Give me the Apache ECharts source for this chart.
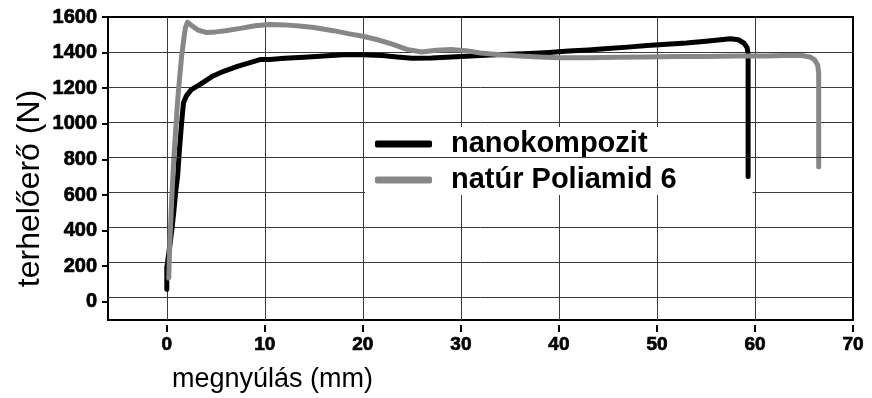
<!DOCTYPE html>
<html>
<head>
<meta charset="utf-8">
<script src="https://cdn.jsdelivr.net/npm/echarts@6/dist/echarts.min.js"></script>
<style>html,body{margin:0;padding:0;background:#fff}#c{width:872px;height:398px}</style>
</head>
<body>
<div id="c"></div>
<script>
// ---- data ----
const seriesNames = ['nanokompozit', 'natúr Poliamid 6'];
const xTicks = [0, 10, 20, 30, 40, 50, 60, 70];
const yTicks = [0, 200, 400, 600, 800, 1000, 1200, 1400, 1600];

const nanoX = [0, 0, 0.1, 0.3, 0.5, 0.7, 0.9, 1.1, 1.3, 1.5, 1.7, 2.0, 2.5, 3.4, 4.6, 5.8, 7.2, 8.4, 9.6, 10.5, 12, 14, 16, 18, 20, 22, 23.5, 25, 27, 29, 31, 33, 35, 37, 39, 41, 43, 45, 47, 49, 51, 53, 55, 56.5, 57.5, 58.3, 58.9, 59.2, 59.3, 59.3];
const nanoY = [45, 170, 210, 290, 380, 480, 600, 690, 850, 990, 1110, 1150, 1185, 1215, 1260, 1290, 1318, 1338, 1358, 1358, 1364, 1370, 1377, 1385, 1385, 1380, 1372, 1365, 1366, 1372, 1378, 1383, 1388, 1392, 1398, 1406, 1412, 1420, 1428, 1437, 1445, 1452, 1462, 1470, 1476, 1470, 1450, 1425, 1390, 690];

const pa6X = [0.2, 0.3, 0.5, 0.7, 0.9, 1.1, 1.3, 1.5, 1.7, 1.9, 2.1, 2.3, 2.7, 3.2, 4.0, 5.0, 6.0, 7.5, 9.0, 10.5, 12, 13.5, 15, 17, 18.5, 20, 21.5, 23, 24.5, 26, 27.5, 29, 30.5, 32, 34, 36, 38, 40, 43, 46, 49, 52, 55, 58, 61, 63, 64.8, 65.6, 66.1, 66.4, 66.5, 66.5];
const pa6Y = [110, 300, 560, 780, 950, 1120, 1250, 1370, 1460, 1540, 1570, 1576, 1545, 1525, 1512, 1515, 1522, 1535, 1550, 1557, 1555, 1548, 1540, 1522, 1505, 1490, 1470, 1445, 1415, 1400, 1410, 1415, 1408, 1395, 1385, 1378, 1372, 1368, 1368, 1370, 1372, 1374, 1375, 1377, 1378, 1380, 1380, 1372, 1355, 1325, 1280, 745];

const zip = (xs, ys) => xs.map((x, i) => [x, ys[i]]);

// ---- layout / scales ----
const W = 872, H = 398;
const G = {left: 108, right: 19, top: 17, bottom: 73};
const X_MIN = -6, X_MAX = 70, Y_MIN = -130, Y_MAX = 1600;
const plotW = W - G.left - G.right, plotH = H - G.top - G.bottom;
const xTickMin = xTicks[0], yTickMin = yTicks[0];
const xShift = (xTickMin - X_MIN) / (X_MAX - X_MIN) * plotW;   // px from left edge to first x tick
const yShift = (yTickMin - Y_MIN) / (Y_MAX - Y_MIN) * plotH;   // px from bottom edge to first y tick

const FONT = "Liberation Sans";
const gridColor = '#3a3a3a';

const chart = echarts.init(document.getElementById('c'), null, {renderer: 'canvas'});

const option = {
  backgroundColor: '#ffffff',
  animation: false,
  grid: [
    {left: G.left, right: G.right, top: G.top, bottom: G.bottom,
     show: true, borderColor: '#000', borderWidth: 2, backgroundColor: 'transparent'},
    {left: G.left + xShift, right: G.right, top: G.top, bottom: G.bottom + yShift, show: false}
  ],
  xAxis: [
    {
      gridIndex: 0, type: 'value', min: X_MIN, max: X_MAX,
      name: 'megnyúlás (mm)', nameLocation: 'middle', nameGap: 46,
      nameTextStyle: {fontFamily: FONT, fontSize: 27, color: '#000', padding: [0, 416, 0, 0]},
      axisLine: {show: true, onZero: false, lineStyle: {color: '#000', width: 2}},
      axisTick: {show: false}, axisLabel: {show: false}, splitLine: {show: false}
    },
    {
      gridIndex: 1, type: 'value', min: xTicks[0], max: xTicks[xTicks.length - 1],
      interval: xTicks[1] - xTicks[0], position: 'bottom', offset: yShift,
      axisLine: {show: false, onZero: false},
      axisTick: {show: true, inside: false, length: 7, lineStyle: {color: '#000', width: 2}},
      axisLabel: {show: true, margin: 10, fontFamily: FONT, fontSize: 19, fontWeight: 'bold', color: '#000',
        textBorderColor: '#000', textBorderWidth: 0.7,
        formatter: v => String(v)},
      splitLine: {show: false}
    }
  ],
  yAxis: [
    {
      gridIndex: 0, type: 'value', min: Y_MIN, max: Y_MAX,
      name: 'terhelőerő (N)', nameLocation: 'middle', nameGap: 62, nameRotate: 90,
      nameTextStyle: {fontFamily: FONT, fontSize: 32, color: '#000', padding: [0, 40, 0, 0]},
      axisLine: {show: true, onZero: false, lineStyle: {color: '#000', width: 2}},
      axisTick: {show: false}, axisLabel: {show: false}, splitLine: {show: false}
    },
    {
      gridIndex: 1, type: 'value', min: yTicks[0], max: yTicks[yTicks.length - 1],
      interval: yTicks[1] - yTicks[0], position: 'left', offset: xShift,
      axisLine: {show: false, onZero: false},
      axisTick: {show: true, inside: false, length: 6, lineStyle: {color: '#000', width: 2}},
      axisLabel: {show: true, margin: 11, fontFamily: FONT, fontSize: 20, fontWeight: 'bold', color: '#000',
        textBorderColor: '#000', textBorderWidth: 0.7,
        formatter: v => String(v)},
      splitLine: {show: false}
    }
  ],
  legend: {
    data: seriesNames,
    orient: 'vertical',
    left: 365, top: 127,
    backgroundColor: '#ffffff',
    padding: [2, 76, 0, 10],
    itemGap: 6,
    itemWidth: 57, itemHeight: 7,
    icon: 'roundRect',
    z: 2,
    textStyle: {fontFamily: FONT, fontSize: 29, fontWeight: 'bold', color: '#000', lineHeight: 30, padding: [0, 0, 0, 14]}
  },
  series: [
    {
      name: seriesNames[0], type: 'line', z: 3, xAxisIndex: 0, yAxisIndex: 0,
      data: zip(nanoX, nanoY),
      showSymbol: false, symbol: 'none', smooth: false,
      lineStyle: {color: '#000', width: 5, cap: 'round', join: 'round'},
      itemStyle: {color: '#000'},
      markLine: {
        z: 1, silent: true, symbol: 'none', label: {show: false},
        lineStyle: {color: gridColor, width: 1, type: 'solid'},
        data: xTicks.filter(v => v < X_MAX).map(v => ({xAxis: v}))
          .concat(yTicks.filter(v => v < Y_MAX && v !== 800).map(v => ({yAxis: v})))
      }
    },
    {
      name: seriesNames[1], type: 'line', z: 3, xAxisIndex: 0, yAxisIndex: 0,
      data: zip(pa6X, pa6Y),
      showSymbol: false, symbol: 'none', smooth: false,
      lineStyle: {color: '#878787', width: 5, cap: 'round', join: 'round'},
      itemStyle: {color: '#878787'},
      markLine: {
        z: 5, silent: true, symbol: 'none', label: {show: false},
        lineStyle: {color: gridColor, width: 1, type: 'solid'},
        data: yTicks.filter(v => v === 800).map(v => ({yAxis: v}))
      }
    }
  ]
};
chart.setOption(option);
</script>
</body>
</html>
